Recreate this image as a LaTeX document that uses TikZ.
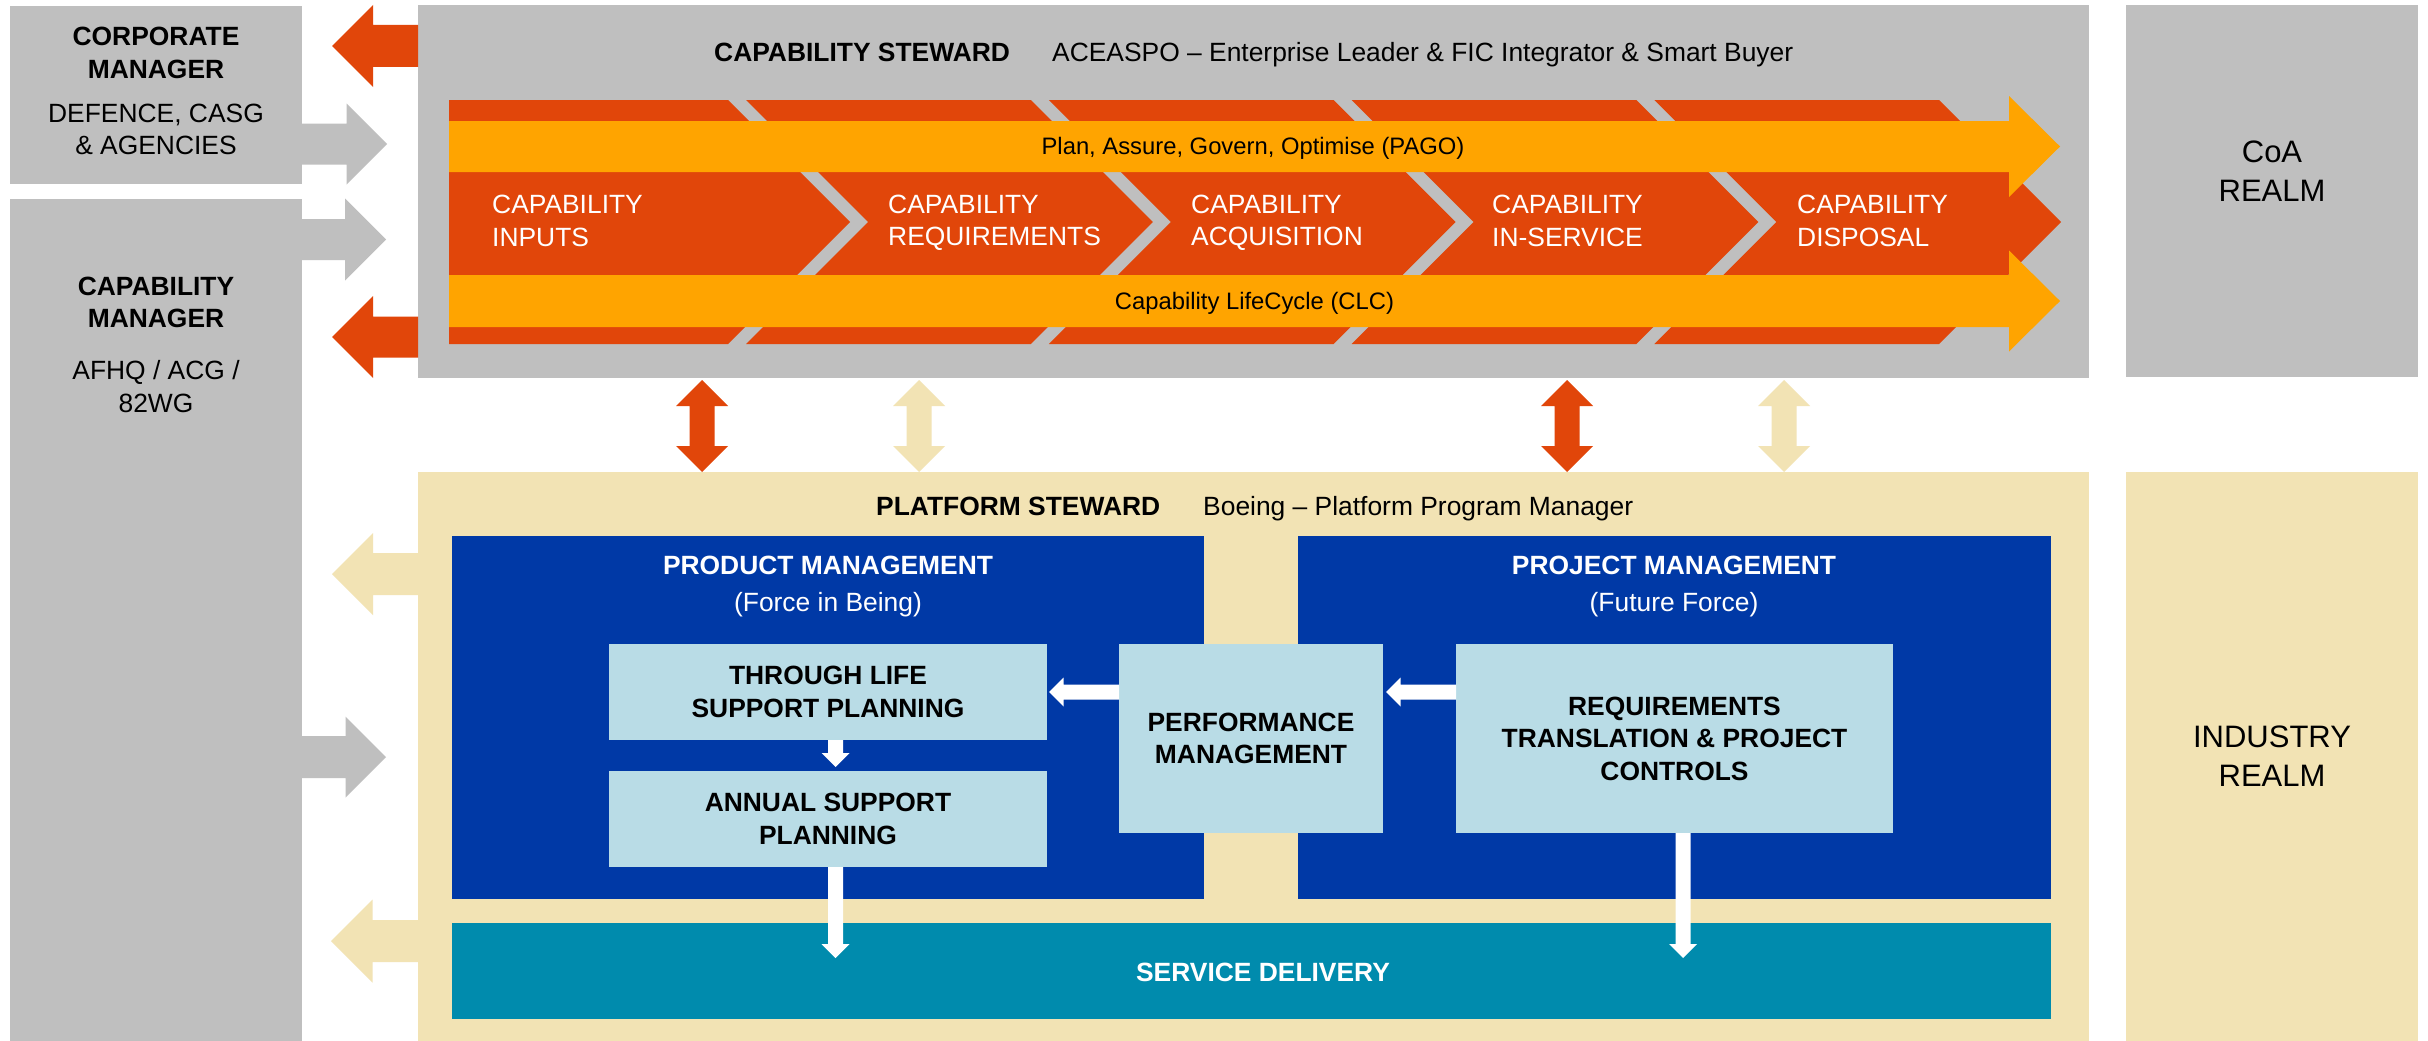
\documentclass[tikz,border=0pt]{standalone}
\usepackage{fontspec}
\setmainfont{Liberation Sans}
\definecolor{cgray}{HTML}{BFBFBF}
\definecolor{corange}{HTML}{E1460A}
\definecolor{cyellow}{HTML}{FFA400}
\definecolor{ctan}{HTML}{F2E3B4}
\definecolor{cblue}{HTML}{0039A6}
\definecolor{clblue}{HTML}{B9DCE6}
\definecolor{cteal}{HTML}{008BAD}
% right-pointing block arrow: colour, x start, x tip, y, shaft half, head half
\newcommand\myrarrow[6]{\fill[#1] (#2,{#4-#5}) -- ({#3-#6},{#4-#5}) -- ({#3-#6},{#4-#6}) -- (#3,#4) -- ({#3-#6},{#4+#6}) -- ({#3-#6},{#4+#5}) -- (#2,{#4+#5}) -- cycle;}
% left-pointing block arrow
\newcommand\mylarrow[6]{\fill[#1] (#2,{#4-#5}) -- ({#3+#6},{#4-#5}) -- ({#3+#6},{#4-#6}) -- (#3,#4) -- ({#3+#6},{#4+#6}) -- ({#3+#6},{#4+#5}) -- (#2,{#4+#5}) -- cycle;}
% down-pointing block arrow: colour, x, y start, y tip, shaft half, head half
\newcommand\mydarrow[6]{\fill[#1] ({#2-#5},#3) -- ({#2-#5},{#4-#6}) -- ({#2-#6},{#4-#6}) -- (#2,#4) -- ({#2+#6},{#4-#6}) -- ({#2+#5},{#4-#6}) -- ({#2+#5},#3) -- cycle;}
% vertical double block arrow: colour, x, y top tip, y bottom tip, shaft half, head half
\newcommand\myvdarrow[6]{\fill[#1] (#2,#3) -- ({#2+#6},{#3+#6}) -- ({#2+#5},{#3+#6}) -- ({#2+#5},{#4-#6}) -- ({#2+#6},{#4-#6}) -- (#2,#4) -- ({#2-#6},{#4-#6}) -- ({#2-#5},{#4-#6}) -- ({#2-#5},{#3+#6}) -- ({#2-#6},{#3+#6}) -- cycle;}
\tikzset{
  box/.style={inner sep=0pt, outer sep=0pt, anchor=north west, draw=none},
  bfl/.style={font=\fontsize{26.4}{32.5}\selectfont\bfseries, inner sep=0pt},
  rgl/.style={font=\fontsize{26.4}{32.5}\selectfont, inner sep=0pt},
  sml/.style={font=\fontsize{23.8}{28}\selectfont, inner sep=0pt},
  realm/.style={font=\fontsize{31}{39}\selectfont, inner sep=0pt, align=center},
  inbox/.style={box, fill=clblue, font=\fontsize{26.4}{32.5}\selectfont\bfseries, align=center},
}
\begin{document}
\begin{tikzpicture}[x=1pt, y=-1pt]
\useasboundingbox (0,0) rectangle (2428,1041);
\fill[white] (0,0) rectangle (2428,1041);
% ---------- main boxes
\node[box, fill=cgray, minimum width=292pt, minimum height=178pt] (corp) at (10,6) {};
\node[box, fill=cgray, minimum width=292pt, minimum height=842pt] (capm) at (10,199) {};
\node[box, fill=cgray, minimum width=1671pt, minimum height=373pt] (stew) at (418,5) {};
\node[box, fill=cgray, minimum width=292pt, minimum height=372pt] (coa) at (2126,5) {};
\node[box, fill=ctan, minimum width=1671pt, minimum height=569pt] (plat) at (418,472) {};
\node[box, fill=ctan, minimum width=292pt, minimum height=569pt] (ind) at (2126,472) {};
% ---------- left texts
\node[bfl, align=center] (corpT) at (156,53) {CORPORATE\\MANAGER};
\node[rgl, align=center] (corpS) at (156,129.5) {DEFENCE, CASG\\\& AGENCIES};
\node[bfl, align=center] (capmT) at (156,302.5) {CAPABILITY\\MANAGER};
\node[rgl, align=center] (capmS) at (156,386.5) {AFHQ / ACG /\\82WG};
% ---------- realm texts
\node[realm] (coaT) at (2272,171) {CoA\\REALM};
\node[realm] (indT) at (2272,756) {INDUSTRY\\REALM};
% ---------- steward title
\node[bfl, anchor=base west] (stewT) at (714,61.5) {CAPABILITY STEWARD};
\node[rgl, anchor=base west] (stewS) at (1052,61.5) {ACEASPO \textendash{} Enterprise Leader \& FIC Integrator \& Smart Buyer};
% ---------- chevrons
\fill[corange] (449,100) -- (728,100) -- (850,222) -- (728,344) -- (449,344) -- cycle;
\foreach \k in {2,...,5} {
  \pgfmathsetmacro\cc{728+302.75*(\k-1)}
  \pgfmathsetmacro\ll{728+302.75*(\k-2)+18}
  \fill[corange] (\ll,100) -- (\cc,100) -- ({\cc+122},222) -- (\cc,344) -- (\ll,344) -- ({\ll+122},222) -- cycle;
}
% ---------- PAGO and CLC arrows
\fill[cyellow] (449,121) -- (2009,121) -- (2009,96) -- (2060,146.5) -- (2009,197) -- (2009,172) -- (449,172) -- cycle;
\fill[cyellow] (449,275) -- (2009,275) -- (2009,250.5) -- (2060,301) -- (2009,351.5) -- (2009,327) -- (449,327) -- cycle;
\node[sml, anchor=base] (pago) at (1253,154.5) {Plan, Assure, Govern, Optimise (PAGO)};
\node[sml, anchor=base] (clc) at (1254.5,309.5) {Capability LifeCycle (CLC)};
% ---------- chevron labels
\node[rgl, text=white, align=left, anchor=west] (c1) at (492,221) {CAPABILITY\\INPUTS};
\node[rgl, text=white, align=left, anchor=west] (c2) at (888,223) {CAPABILITY\\REQUIREMENTS};
\node[rgl, text=white, align=left, anchor=west] (c3) at (1191,223) {CAPABILITY\\ACQUISITION};
\node[rgl, text=white, align=left, anchor=west] (c4) at (1492,221) {CAPABILITY\\IN-SERVICE};
\node[rgl, text=white, align=left, anchor=west] (c5) at (1797,221) {CAPABILITY\\DISPOSAL};
% ---------- left block arrows
\mylarrow{corange}{418}{332}{46}{21}{41}
\myrarrow{cgray}{302}{387}{144}{20.5}{40.5}
\myrarrow{cgray}{302}{386}{239.5}{20.5}{41}
\mylarrow{corange}{418}{332}{337}{20.5}{41}
\mylarrow{ctan}{418}{332}{574}{21}{41}
\myrarrow{cgray}{302}{386}{757}{21}{40.5}
\mylarrow{ctan}{418}{331}{941}{21}{41.5}
% ---------- double arrows between stewards
\myvdarrow{corange}{702}{380}{472}{12.5}{26}
\myvdarrow{ctan}{919}{380}{472}{12.5}{26}
\myvdarrow{corange}{1567}{380}{472}{12.5}{26}
\myvdarrow{ctan}{1784}{380}{472}{12.5}{26}
% ---------- platform steward
\node[bfl, anchor=base west] (platT) at (876,515.5) {PLATFORM STEWARD};
\node[rgl, anchor=base west] (platS) at (1203,515.5) {Boeing \textendash{} Platform Program Manager};
\node[box, fill=cblue, minimum width=752pt, minimum height=363pt] (prod) at (452,536) {};
\node[box, fill=cblue, minimum width=753pt, minimum height=363pt] (proj) at (1298,536) {};
\node[bfl, text=white, anchor=base] (prodT) at (828,574.5) {PRODUCT MANAGEMENT};
\node[rgl, text=white, anchor=base] (prodS) at (828,611) {(Force in Being)};
\node[bfl, text=white, anchor=base] (projT) at (1674,574.5) {PROJECT MANAGEMENT};
\node[rgl, text=white, anchor=base] (projS) at (1674,611) {(Future Force)};
\node[inbox, minimum width=438pt, minimum height=96pt] (tls) at (609,644) {THROUGH LIFE\\SUPPORT PLANNING};
\node[inbox, minimum width=438pt, minimum height=96pt] (asp) at (609,771) {ANNUAL SUPPORT\\PLANNING};
\node[inbox, minimum width=264pt, minimum height=189pt] (perf) at (1119,644) {PERFORMANCE\\MANAGEMENT};
\node[inbox, minimum width=437pt, minimum height=189pt] (req) at (1456,644) {REQUIREMENTS\\TRANSLATION \& PROJECT\\CONTROLS};
\node[box, fill=cteal, minimum width=1599pt, minimum height=96pt] (sd) at (452,923) {};
\node[bfl, text=white, anchor=base] (sdT) at (1263,981.5) {SERVICE DELIVERY};
% ---------- white arrows
\mylarrow{white}{1119}{1049}{692}{7.5}{14.5}
\mylarrow{white}{1456}{1386}{692}{7.5}{14.5}
\mydarrow{white}{835.5}{740}{767}{7.5}{14}
\mydarrow{white}{835.5}{867}{958}{7.5}{14}
\mydarrow{white}{1683}{833}{958}{7.5}{14}
\end{tikzpicture}
\end{document}
